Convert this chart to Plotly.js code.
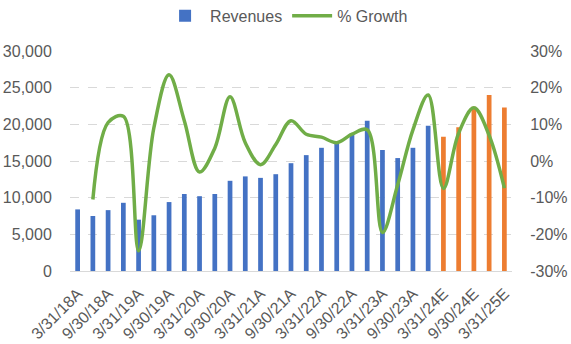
<!DOCTYPE html>
<html><head><meta charset="utf-8">
<script src="https://cdn.plot.ly/plotly-3.0.1.min.js"></script>
<style>html,body{margin:0;padding:0;background:#fff}#c{width:571px;height:344px}</style>
</head><body><div id="c"></div>
<script>
const categories = ["3/31/18A","6/30/18A","9/30/18A","12/31/18A","3/31/19A","6/30/19A","9/30/19A","12/31/19A",
 "3/31/20A","6/30/20A","9/30/20A","12/31/20A","3/31/21A","6/30/21A","9/30/21A","12/31/21A",
 "3/31/22A","6/30/22A","9/30/22A","12/31/22A","3/31/23A","6/30/23A","9/30/23A","12/31/23A",
 "3/31/24E","6/30/24E","9/30/24E","12/31/24E","3/31/25E"];
const revenues = [8400,7500,8300,9300,7000,7600,9400,10500,10200,10500,12300,12900,12700,13200,14700,15800,
 16800,17600,18800,20500,16500,15400,16800,19800,18300,19600,22400,24000,22300];
const growthPct = [null,-10.5,10.5,12.2,-24.5,9,23.5,11,-3,3.5,17.5,5,-1,4.5,11,7.3,6.5,5,7.3,8.5,
 -19.5,-6.5,8.5,18,-7.5,7.6,14.5,7,-7.4];
const xTickLabels = ["3/31/18A","9/30/18A","3/31/19A","9/30/19A","3/31/20A","9/30/20A","3/31/21A","9/30/21A",
 "3/31/22A","9/30/22A","3/31/23A","9/30/23A","3/31/24E","9/30/24E","3/31/25E"];
const y2Vals = [-30,-20,-10,0,10,20,30];
const y2Text = ["-30%","-20%","-10%","0%","10%","20%","30%"];

const barColors = categories.map(c => c.endsWith("E") ? "#ED7D31" : "#4472C4");
const font = {family:"Liberation Sans, Arial, sans-serif", size:16, color:"#595959"};

const data = [
 {type:"bar", name:"Revenues", x:categories, y:revenues, marker:{color:barColors}, yaxis:"y"},
 {type:"scatter", mode:"lines", name:"% Growth", x:categories, y:growthPct, yaxis:"y2",
  line:{color:"#70AD47", width:3.5, shape:"spline", smoothing:1}, connectgaps:false}
];
const layout = {
 width:571, height:344, margin:{l:70, r:59, t:51, b:73, autoexpand:false},
 paper_bgcolor:"#fff", plot_bgcolor:"#fff", font:font, bargap:0.69, showlegend:true,
 legend:{orientation:"h", x:0.49, xanchor:"center", y:1.16, yanchor:"middle", font:font, itemwidth:40},
 xaxis:{type:"category", tickvals:xTickLabels, ticktext:xTickLabels, tickangle:-45, showgrid:false,
   showline:true, linecolor:"#D9D9D9", linewidth:1, ticks:"outside", ticklen:6, tickcolor:"rgba(0,0,0,0)",
   tickfont:font, range:[-0.5, 28.5], automargin:false},
 yaxis:{range:[0,30000], dtick:5000, tickformat:",", showgrid:true, gridcolor:"#D9D9D9", griddash:"dash",
   zeroline:false, ticks:"outside", ticklen:14, tickcolor:"rgba(0,0,0,0)", tickfont:font, automargin:false},
 yaxis2:{overlaying:"y", side:"right", range:[-30,30], tickvals:y2Vals, ticktext:y2Text, showgrid:false,
   zeroline:false, ticks:"outside", ticklen:14, tickcolor:"rgba(0,0,0,0)", tickfont:font, automargin:false}
};
Plotly.newPlot("c", data, layout, {displayModeBar:false, staticPlot:true});
</script></body></html>
